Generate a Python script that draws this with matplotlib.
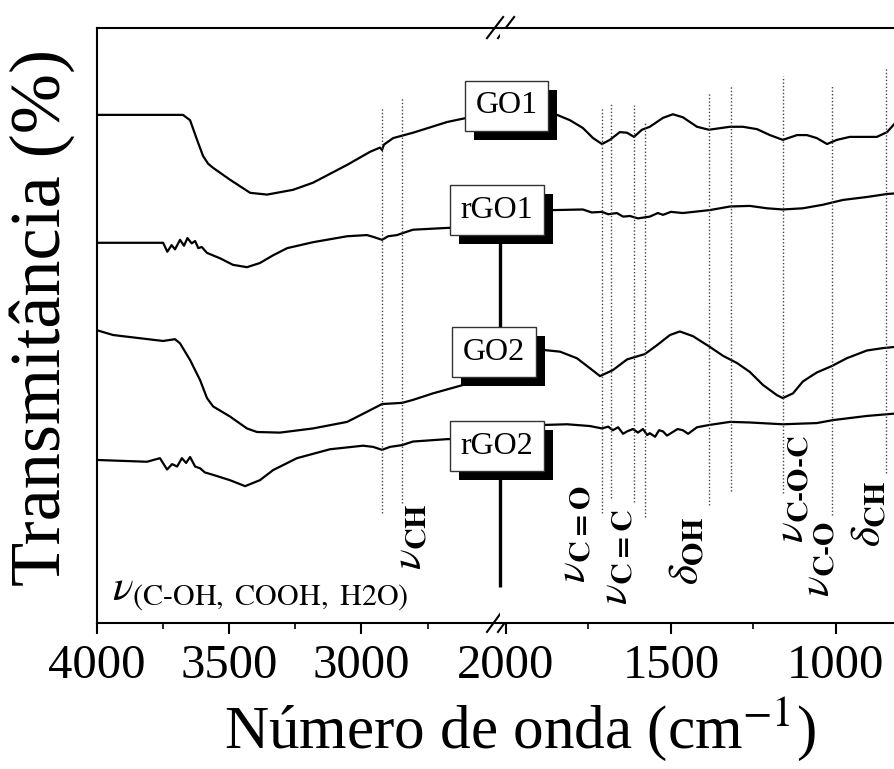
import numpy as np
import matplotlib.pyplot as plt
import matplotlib.patheffects as pe

plt.rcParams['font.family'] = 'Liberation Serif'
plt.rcParams['mathtext.fontset'] = 'stix'

# Espectros FTIR (número de onda em cm-1, transmitância em u.a. com deslocamento)
wn_go1 = [4000, 3675, 3648, 3620, 3599, 3580, 3561, 3497, 3421, 3357, 3259, 3183, 3054,
          2967, 2930, 2922, 2915, 2880, 2805, 2676, 2601, 2476, 2018, 1845, 1806, 1767,
          1736, 1709, 1685, 1655, 1633, 1612, 1588, 1564, 1524, 1494, 1464, 1421, 1385,
          1321, 1282, 1239, 1200, 1161, 1118, 1088, 1058, 1027, 997, 958, 876, 845, 821]
t_go1 = [85.4, 85.4, 84.5, 81.0, 78.5, 77.2, 76.5, 74.5, 72.3, 72.0, 72.8, 74.0, 77.0,
         79.2, 79.9, 79.5, 80.4, 81.5, 82.4, 84.2, 84.9, 85.5, 85.5, 85.4, 84.5, 83.2,
         81.5, 80.5, 81.2, 82.5, 82.4, 81.7, 82.9, 83.4, 84.9, 85.5, 85.0, 83.4, 82.9,
         83.4, 83.4, 83.0, 82.0, 81.2, 82.0, 82.0, 81.5, 80.5, 81.2, 81.7, 81.7, 82.5, 84.0]

wn_rgo1 = [4000, 3750, 3734, 3718, 3705, 3686, 3671, 3658, 3642, 3629, 3617, 3604, 3584,
           3535, 3486, 3433, 3384, 3334, 3281, 3183, 3054, 2979, 2956, 2922, 2899, 2865,
           2846, 2805, 2676, 2570, 2476, 2018, 1852, 1767, 1740, 1709, 1690, 1664, 1645,
           1624, 1600, 1564, 1540, 1524, 1500, 1464, 1382, 1321, 1261, 1209, 1161, 1100,
           1039, 979, 906, 845, 821]
t_rgo1 = [63.9, 63.9, 62.4, 63.5, 62.8, 64.4, 63.4, 64.7, 63.8, 64.2, 63.0, 63.2, 62.2,
          61.3, 60.2, 59.8, 60.5, 61.8, 63.0, 64.0, 65.0, 65.2, 64.9, 64.4, 65.0, 65.2,
          65.5, 66.1, 66.4, 66.6, 66.6, 69.4, 69.4, 69.5, 69.0, 69.1, 68.7, 68.9, 68.3,
          68.4, 68.0, 68.3, 68.9, 68.6, 69.1, 68.9, 69.4, 70.0, 70.1, 69.7, 69.5, 69.7,
          70.3, 71.1, 71.6, 72.1, 72.2]

wn_go2 = [4000, 3939, 3864, 3750, 3705, 3686, 3648, 3610, 3584, 3561, 3497, 3433, 3395,
          3308, 3183, 3054, 2979, 2922, 2846, 2805, 2729, 2616, 2476, 2018, 1888, 1836,
          1785, 1745, 1715, 1676, 1633, 1603, 1579, 1542, 1503, 1473, 1433, 1382, 1342,
          1300, 1261, 1221, 1179, 1161, 1130, 1100, 1058, 1012, 967, 906, 858, 821]
t_go2 = [49.2, 48.4, 48.0, 47.4, 47.7, 47.0, 44.2, 40.8, 37.8, 36.4, 34.7, 32.7, 32.1,
         32.0, 32.7, 33.8, 35.5, 36.8, 37.0, 37.5, 38.6, 40.0, 41.2, 45.9, 45.9, 45.6,
         44.5, 42.8, 41.5, 42.5, 44.3, 44.8, 45.2, 46.7, 48.4, 49.0, 48.2, 46.4, 44.9,
         43.7, 42.2, 40.0, 38.3, 37.8, 38.6, 40.6, 42.1, 43.2, 44.5, 45.8, 46.2, 46.4]

wn_rgo2 = [4000, 3811, 3762, 3735, 3716, 3697, 3679, 3663, 3648, 3629, 3610, 3592, 3561,
           3497, 3440, 3384, 3334, 3244, 3119, 2994, 2956, 2922, 2892, 2846, 2805, 2676,
           2476, 2018, 1876, 1815, 1745, 1709, 1690, 1676, 1660, 1645, 1633, 1615, 1600,
           1585, 1572, 1564, 1548, 1536, 1524, 1512, 1503, 1480, 1464, 1448, 1421, 1382,
           1321, 1261, 1161, 1058, 1009, 906, 821]
t_rgo2 = [27.4, 27.1, 27.7, 25.8, 26.7, 26.3, 27.7, 26.9, 27.9, 26.3, 26.0, 25.3, 24.9,
          24.0, 23.0, 24.0, 25.7, 27.7, 29.2, 29.8, 29.6, 29.1, 29.6, 29.9, 30.5, 30.9,
          31.1, 33.3, 33.3, 33.4, 33.1, 32.7, 33.0, 32.4, 32.9, 31.8, 32.2, 32.6, 32.0,
          32.6, 31.6, 31.9, 31.3, 32.4, 32.2, 31.5, 31.8, 32.6, 32.4, 31.8, 32.9, 33.3,
          33.8, 33.7, 33.4, 33.6, 34.1, 34.8, 35.2]

# rótulos das amostras (nome, número de onda, transmitância)
amostras = ['GO1', 'rGO1', 'GO2', 'rGO2']
amostras_wn = [1997, 2027, 2036, 2027]
amostras_t = [86.9, 69.4, 45.5, 29.7]

# linhas pontilhadas das bandas: posição, topo e base
bandas_wn = [2922, 2846, 1710, 1682, 1612, 1579, 1385, 1319, 1161, 1012, 848]
bandas_topo = [86.6, 88.2, 86.7, 87.4, 87.1, 84.2, 89.1, 90.4, 91.9, 90.4, 93.4]
bandas_base = [18.5, 20.2, 18.5, 21.0, 20.3, 17.8, 19.8, 22.2, 21.8, 18.2, 25.2]

# atribuições (texto, número de onda, transmitância da base do texto)
hif = '\u2010'
atrib_txt = [r'$\nu_{\mathbf{CH}}$', r'$\nu_{\mathbf{C{=}O}}$', r'$\nu_{\mathbf{C{=}C}}$',
             r'$\delta_{\mathbf{OH}}$',
             r'$\nu_{\mathbf{C' + hif + 'O' + hif + r'C}}$',
             r'$\nu_{\mathbf{C' + hif + r'O}}$',
             r'$\delta_{\mathbf{CH}}$']
atrib_wn = [2816, 1791, 1664, 1448, 1130, 1052, 897]
atrib_t = [8.9, 6.7, 3.0, 6.4, 13.4, 4.4, 12.8]

W, H = 895, 769
fig = plt.figure(figsize=(W / 100, H / 100), dpi=100)
ax1 = fig.add_axes([97 / W, 1 - 623 / H, 403 / W, 595 / H])
ax2 = fig.add_axes([500 / W, 1 - 623 / H, 395 / W, 595 / H])
ax1.set_xlim(4000, 2476)
ax2.set_xlim(2018, 821)

for ax in (ax1, ax2):
    ax.set_ylim(0, 100)
    ax.set_yticks([])
    for s in ax.spines.values():
        s.set_linewidth(1.5)
    ax.tick_params(axis='x', which='major', direction='out', length=8, width=1.5,
                   labelsize=35, pad=7)
    ax.tick_params(axis='x', which='minor', direction='out', length=4, width=1.2)
    for wn, t in [(wn_go1, t_go1), (wn_rgo1, t_rgo1), (wn_go2, t_go2), (wn_rgo2, t_rgo2)]:
        ax.plot(wn, t, color='black', lw=1.6)

ax1.spines['right'].set_visible(False)
ax2.spines['left'].set_visible(False)
ax2.spines['right'].set_visible(False)
ax1.set_xticks([4000, 3500, 3000])
ax1.set_xticks([3750, 3250, 2750], minor=True)
ax2.set_xticks([2000, 1500, 1000])
ax2.set_xticks([1750, 1250], minor=True)

for x, y0, y1 in zip(bandas_wn, bandas_base, bandas_topo):
    ax = ax1 if x > 2476 else ax2
    ax.vlines(x, y0, y1, colors='#444444', linestyles=(0, (1, 1.5)), lw=1.0)

# linha vertical de quebra entre os rótulos
ax2.vlines(2018, 49.7, 65.5, colors='black', lw=2.4, clip_on=False, zorder=4)
ax2.vlines(2018, 6.0, 25.7, colors='black', lw=2.4, clip_on=False, zorder=4)

for nome, x, y in zip(amostras, amostras_wn, amostras_t):
    txt = ax2.text(x, y, nome, ha='center', va='center', fontsize=23, clip_on=False,
                   zorder=6, bbox=dict(boxstyle='square,pad=0.33', fc='white',
                                       ec='#333333', lw=1.0))
    txt.get_bbox_patch().set_path_effects([
        pe.SimplePatchShadow(offset=(6.5, -6.5), shadow_rgbFace='black', alpha=1.0),
        pe.Normal()])

for s, x, y in zip(atrib_txt, atrib_wn, atrib_t):
    ax = ax1 if x > 2476 else ax2
    ax.text(x, y, s, rotation=90, ha='center', va='bottom', fontsize=31, clip_on=False)

ax1.text(3943, 1.7, r'$\nu_{\mathrm{(C' + hif + r'OH,\ COOH,\ H2O)}}$', ha='left',
         va='bottom', fontsize=31)

# marcas de quebra do eixo
for yb, yt in [(0.983, 1.0185), (-0.015, 0.022)]:
    for xa in (0.9677, 0.995):
        ax1.plot([xa, xa + 0.04], [yb, yt], transform=ax1.transAxes, color='black',
                 lw=1.5, clip_on=False, zorder=7)

fig.text(520 / W, 1 - 748 / H, r'Número de onda (cm$^{-1}$)', ha='center',
         va='baseline', fontsize=44)
fig.text(42 / W, 1 - 318 / H, 'Transmitância (%)', rotation=90, ha='center',
         va='center', fontsize=52)

fig.savefig('out.png', dpi=100)
